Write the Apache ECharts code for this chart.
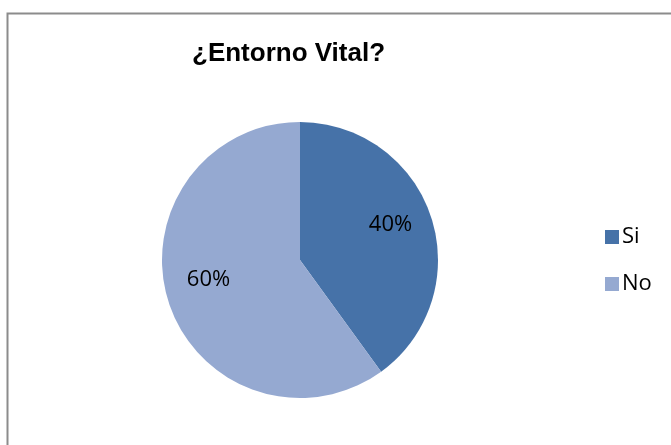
<!DOCTYPE html>
<html>
<head>
<meta charset="utf-8">
<script src="https://cdn.jsdelivr.net/npm/echarts@6/dist/echarts.min.js"></script>
<style>
  html, body { margin: 0; padding: 0; background: #fff; }
  #chart { width: 671px; height: 445px; }
</style>
</head>
<body>
<div id="chart"></div>
<script>
// datos del gráfico
const categories = ['Si', 'No'];
const values = [40, 60];
const colors = ['#4672A8', '#95A9D1'];

// pequeños ajustes para acercar las etiquetas a la posición de Excel
const labelShift = [[22, -13], [-23, -3]];

const myChart = echarts.init(document.getElementById('chart'));

const option = {
  animation: false,
  backgroundColor: '#fff',
  title: {
    text: '¿Entorno Vital?',
    left: 187,
    top: 36,
    textStyle: {
      fontFamily: 'Liberation Sans, Arial, sans-serif',
      fontWeight: 'bold',
      fontSize: 26,
      color: '#000'
    }
  },
  legend: {
    orient: 'vertical',
    left: 600,
    top: 221,
    itemGap: 25,
    itemWidth: 14,
    itemHeight: 14,
    icon: 'rect',
    data: categories,
    textStyle: {
      fontFamily: 'Open Sans, Liberation Sans, sans-serif',
      fontSize: 22,
      lineHeight: 22,
      color: '#000',
      padding: [0, 0, 0, -2]
    }
  },
  graphic: [{
    type: 'rect',
    shape: { x: 7.5, y: 13.5, width: 700, height: 500 },
    style: { fill: 'none', stroke: '#8c8c8c', lineWidth: 2 },
    silent: true
  }],
  series: [{
    type: 'pie',
    center: [300, 260],
    radius: 138,
    startAngle: 90,
    clockwise: true,
    label: {
      show: true,
      position: 'inside',
      formatter: '{d}%',
      fontFamily: 'Open Sans, Liberation Sans, sans-serif',
      fontSize: 22,
      color: '#000'
    },
    labelLine: { show: false },
    emphasis: { disabled: true },
    labelLayout: function (params) {
      const s = labelShift[params.dataIndex];
      return { dx: s[0], dy: s[1] };
    },
    data: categories.map((name, i) => ({
      name: name,
      value: values[i],
      itemStyle: { color: colors[i] }
    }))
  }]
};

myChart.setOption(option);
</script>
</body>
</html>
